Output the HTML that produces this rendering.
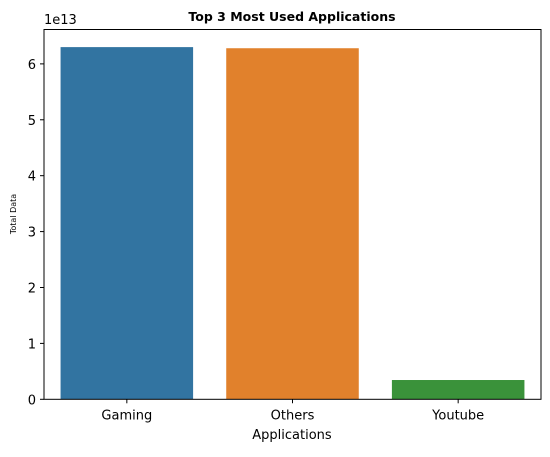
<!DOCTYPE html>
<html><head><meta charset="utf-8"><style>
body{margin:0;background:#fff;}
svg text{font-family:"DejaVu Sans","Liberation Sans",sans-serif;fill:#000;}
</style></head><body>
<svg id="chart" width="550" height="452" viewBox="0 0 550 452">
<text x="292" y="21" font-size="12.5" font-weight="bold" text-anchor="middle">Top 3 Most Used Applications</text>
<text x="44" y="24" font-size="13">1e13</text>
<text x="16" y="214" font-size="8" text-anchor="middle" transform="rotate(-90 16 214)">Total Data</text>
<text x="292" y="439" font-size="13" text-anchor="middle">Applications</text>
<g id="bars"></g><g id="yt"></g><g id="xt"></g>
<rect x="44" y="29.5" width="497" height="369.8" fill="none" stroke="#000" stroke-width="1"/>
</svg>
<script>
const categories=["Gaming","Others","Youtube"];
const values=[6.30,6.28,0.345];
const colors=["#3274a1","#e1812c","#3a923a"];
const yTicks=[0,1,2,3,4,5,6];
const NS="http://www.w3.org/2000/svg";
const L=44,R=541,B=399.3,T=29.5,yMax=6.615;
const y=v=>B-(v/yMax)*(B-T);
const step=(R-L)/categories.length;
const x=i=>L+step*(i+0.5);
function mk(t,a){const e=document.createElementNS(NS,t);for(const k in a)e.setAttribute(k,a[k]);return e;}
const bars=document.getElementById('bars'),yt=document.getElementById('yt'),xt=document.getElementById('xt');
categories.forEach((c,i)=>{
 const r=mk('rect',{x:x(i)-step*0.4,y:y(values[i]),width:step*0.8,height:B-y(values[i]),fill:colors[i]});
 
 
 bars.appendChild(r);
 const tk=mk('line',{x1:x(i),x2:x(i),y1:B,y2:B+4,stroke:'#000'});
 
 
 xt.appendChild(tk);
 const t=mk('text',{x:x(i),y:B+20,'font-size':13,'text-anchor':'middle'});
 t.textContent=c;
 
 
 xt.appendChild(t);
});
yTicks.forEach(v=>{
 const tk=mk('line',{x1:L-4,x2:L,y1:y(v),y2:y(v),stroke:'#000'});
 
 
 yt.appendChild(tk);
 const t=mk('text',{x:L-8,y:y(v)+5,'font-size':13,'text-anchor':'end'});
 t.textContent=v;
 
 
 yt.appendChild(t);
});
</script>
</body></html>
